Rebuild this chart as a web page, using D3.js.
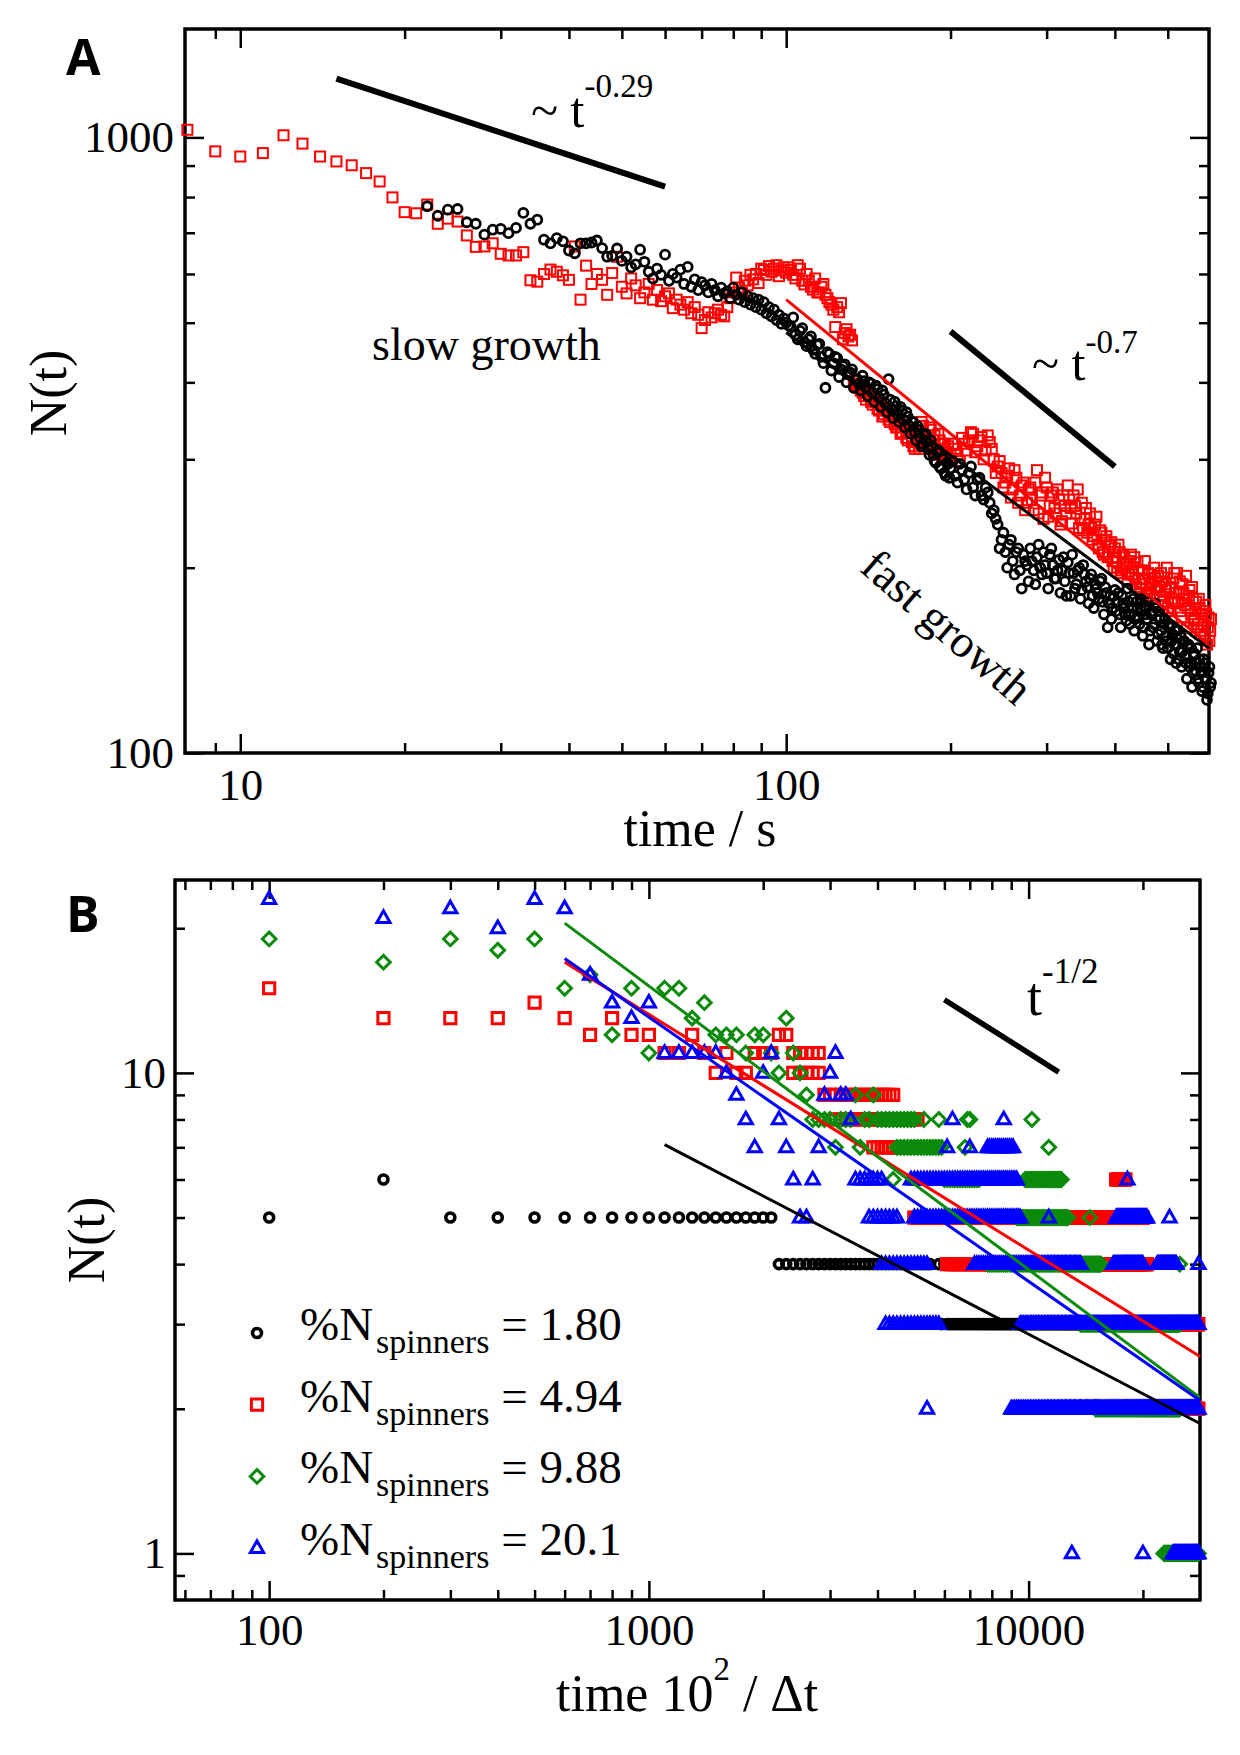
<!DOCTYPE html>
<html>
<head>
<meta charset="utf-8">
<script src="https://cdn.jsdelivr.net/npm/d3@7"></script>
<style>
  body { margin: 0; background: #fff; }
  svg { display: block; }
</style>
</head>
<body>
<div id="chart"></div>
<script>
// ---------------- panel A : N(t) vs time / s ----------------
// red squares, one reading per second from t = 8 s to 99 s
var redA_early = [1029, 949, 931, 943, 1008, 977, 931, 914, 901, 875,
    848, 799, 756, 753, 778, 724, 738, 730, 693, 664,
    665, 673, 647, 643, 643, 651, 586, 583, 600, 610,
    605, 597, 587, 665, 545, 619, 578, 600, 587, 555,
    602, 640, 572, 558, 590, 575, 548, 560, 578, 545,
    565, 542, 552, 558, 528, 545, 535, 525, 540, 518,
    530, 515, 490, 505, 520, 510, 518, 525, 515, 512,
    530, 548, 560, 592, 570, 559, 585, 575, 598, 588,
    600, 580, 612, 609, 598, 618, 605, 612, 620, 595,
    608, 615];
// t = 100, 102 .. 198 s
var redA_mid = [603, 609, 590, 612, 577, 585, 566, 560, 572, 555,
    540, 525, 530, 538, 481, 475, 468, 398, 392, 385,
    375, 380, 368, 372, 360, 352, 365, 348, 355, 342,
    338, 330, 345, 325, 335, 320, 312, 330, 318, 340,
    328, 315, 335, 322, 310, 330, 318, 312, 305, 315];
// t = 101, 103 .. 199 s
var redA_mid2 = [615, 598, 620, 585, 600, 572, 590, 560, 578, 548,
    535, 492, 520, 470, 488, 478, 402, 395, 388, 380,
    390, 372, 378, 362, 370, 355, 360, 345, 352, 338,
    348, 332, 340, 322, 335, 315, 328, 312, 345, 322,
    318, 338, 312, 328, 305, 322, 300, 318, 308, 298];
// t = 200, 204 .. 600 s
var redA_late = [305, 312, 298, 318, 322, 330, 315, 326, 310, 320,
    300, 292, 285, 275, 290, 268, 280, 262, 275, 255,
    270, 248, 288, 262, 240, 270, 252, 265, 245, 258,
    238, 252, 272, 250, 262, 245, 232, 255, 240, 228,
    245, 222, 235, 218, 230, 212, 222, 208, 218, 205,
    215, 200, 212, 198, 208, 203, 195, 210, 200, 192,
    204, 188, 198, 192, 185, 196, 182, 190, 200, 186,
    194, 180, 190, 176, 188, 172, 185, 178, 192, 175,
    196, 182, 170, 188, 178, 194, 172, 184, 168, 178,
    165, 176, 162, 172, 158, 170, 155, 168, 160, 152,
    165];
// t = 202, 206 .. 598 s
var redA_late2 = [318, 305, 325, 310, 332, 308, 322, 300, 328, 312,
    285, 298, 270, 282, 260, 288, 255, 272, 248, 268,
    258, 275, 245, 265, 280, 242, 262, 250, 268, 235,
    262, 245, 258, 236, 252, 268, 240, 230, 250, 235,
    232, 225, 242, 215, 228, 210, 225, 212, 220, 200,
    208, 218, 196, 210, 200, 190, 205, 195, 208, 186,
    198, 182, 192, 205, 180, 195, 188, 178, 192, 184,
    186, 196, 174, 184, 200, 170, 186, 176, 196, 182,
    176, 190, 166, 182, 174, 160, 180, 170, 186, 164,
    172, 160, 178, 156, 168, 162, 174, 150, 166, 158];

// black circles, t = 22 .. 99 s
var blackA_early = [773, 746, 763, 765, 728, 724, 695, 708, 710, 699,
    713, 754, 724, 735, 682, 673, 686, 678, 655, 648,
    673, 673, 675, 680, 661, 640, 642, 660, 630, 640,
    615, 622, 657, 628, 605, 590, 612, 598, 645, 585,
    600, 592, 610, 578, 616, 572, 588, 565, 582, 575,
    560, 578, 565, 552, 570, 558, 562, 548, 570, 555,
    545, 560, 540, 552, 535, 548, 530, 545, 525, 540,
    518, 530, 512, 525, 505, 515, 498, 508];
var blackA_mid = [500, 492, 478, 485, 465, 470, 452, 460, 440, 392,
    445, 430, 438, 420, 428, 412, 420, 405, 398, 410,
    392, 400, 385, 395, 378, 388, 370, 405, 362, 372,
    355, 365, 348, 358, 340, 345, 332, 340, 325, 318,
    330, 312, 322, 305, 296, 310, 290, 300, 282, 295];
var blackA_mid2 = [495, 510, 470, 490, 458, 475, 445, 462, 430, 448,
    418, 440, 408, 425, 400, 415, 392, 405, 388, 402,
    380, 398, 372, 390, 365, 382, 358, 375, 350, 366,
    345, 360, 338, 352, 330, 345, 322, 335, 315, 328,
    320, 305, 315, 298, 308, 292, 302, 285, 296, 280];
var blackA_late = [290, 282, 295, 278, 285, 270, 278, 262, 270, 255,
    248, 235, 222, 212, 218, 205, 212, 198, 210, 202,
    215, 198, 208, 200, 212, 196, 210, 202, 192, 206,
    198, 190, 204, 180, 196, 188, 200, 184, 195, 186,
    192, 180, 188, 182, 190, 176, 186, 160, 180, 172,
    184, 175, 168, 180, 172, 164, 176, 168, 178, 165,
    172, 162, 170, 160, 168, 176, 158, 170, 162, 172,
    156, 165, 150, 162, 155, 148, 160, 152, 145, 158,
    150, 142, 155, 146, 152, 140, 150, 138, 148, 135,
    145, 140, 132, 142, 135, 128, 140, 132, 125, 138,
    130];
var blackA_late2 = [298, 275, 288, 268, 292, 262, 280, 258, 265, 245,
    240, 215, 228, 200, 222, 195, 215, 185, 205, 190,
    205, 188, 218, 195, 202, 185, 215, 192, 198, 182,
    208, 180, 196, 210, 185, 198, 178, 202, 190, 175,
    195, 172, 185, 178, 192, 168, 182, 175, 165, 180,
    170, 182, 160, 175, 168, 185, 162, 172, 158, 176,
    166, 178, 155, 172, 165, 150, 168, 160, 175, 152,
    170, 158, 148, 165, 152, 162, 142, 156, 150, 140,
    158, 146, 138, 152, 144, 132, 150, 140, 128, 145,
    136, 148, 130, 138, 126, 142, 132, 122, 135, 128];

// straight lines of panel A, [t, N] end points
var slowGuideA = [[15, 1246], [60, 832]];
var fastGuideA = [[200, 484], [400, 292]];
var redFitA = [[100, 545], [595, 150]];
var blackFitA = [[100, 482], [595, 148]];

var xMajorA = [10, 100];
var xMinorA = [9, 20, 30, 40, 50, 60, 70, 80, 90, 200, 300, 400, 500];
var yMajorA = [100, 1000];
var yMinorA = [200, 300, 400, 500, 600, 700, 800, 900];

// ---------------- panel B : N(t) vs time 10^2 / dt ----------------
// runs of points [from, to, N], one point every 100 along x
var blackRunsB = [[100, 100, 5], [200, 200, 6], [300, 2100, 5], [2200, 5500, 4],
    [5800, 5800, 4], [5900, 5900, 3], [6000, 6000, 4], [6100, 28000, 3]];
var redRunsB = [[100, 100, 15], [200, 400, 13], [500, 500, 14], [600, 600, 13],
    [700, 700, 12], [800, 800, 13], [900, 1000, 12], [1100, 1200, 11],
    [1300, 1300, 12], [1400, 1400, 11], [1500, 1500, 10], [1600, 1600, 11],
    [1700, 1800, 10], [1900, 2100, 11], [2200, 2300, 12], [2400, 2800, 11],
    [2400, 2800, 10], [2900, 4400, 9], [3100, 5100, 8], [3900, 5100, 7],
    [5000, 20000, 5], [6100, 20500, 4], [17000, 18000, 6], [20000, 28000, 3],
    [25000, 28000, 2]];
var greenRunsB = [[100, 100, 19], [200, 200, 17], [300, 300, 19], [400, 400, 18],
    [500, 500, 19], [600, 600, 15], [700, 700, 16], [800, 800, 12],
    [900, 900, 15], [1000, 1000, 11], [1100, 1200, 15], [1300, 1300, 13],
    [1400, 1400, 14], [1500, 1700, 12], [1800, 1800, 11], [1900, 2000, 12],
    [2100, 2100, 11], [2200, 2200, 10], [2300, 2300, 13], [2400, 2400, 11],
    [2500, 2500, 10], [2600, 2600, 9], [2700, 3000, 8], [3100, 3100, 7],
    [3200, 3400, 8], [3500, 3500, 9], [3600, 3600, 7], [3700, 3800, 8],
    [3900, 3900, 9], [4000, 5000, 8], [4400, 4400, 6], [4500, 5900, 7],
    [5300, 5300, 8], [5800, 5800, 8], [6000, 7400, 6], [6800, 6800, 7],
    [6900, 7000, 8], [7800, 15500, 4], [9300, 12700, 5], [9800, 12200, 6],
    [10200, 10200, 8], [11300, 11300, 7], [13700, 25000, 3], [14500, 14500, 5],
    [15000, 25000, 2], [22700, 28000, 1], [25000, 25000, 4]];
var blueRunsB = [[100, 100, 23], [200, 200, 21], [300, 300, 22], [400, 400, 20],
    [500, 500, 23], [600, 600, 22], [700, 700, 16], [800, 800, 14],
    [900, 900, 13], [1000, 1000, 14], [1100, 1500, 11], [1600, 1600, 10],
    [1700, 1700, 9], [1800, 1800, 8], [1900, 1900, 7], [2000, 2000, 10],
    [2100, 2100, 11], [2200, 2200, 8], [2300, 2300, 7], [2400, 2400, 6],
    [2500, 2600, 5], [2700, 2700, 6], [2800, 2800, 7], [2900, 2900, 9],
    [3000, 3000, 10], [3100, 3100, 11], [3200, 3300, 9], [3400, 3400, 8],
    [3500, 4100, 6], [3800, 4500, 5], [4100, 5400, 4], [4200, 5800, 3],
    [5400, 5400, 2], [4900, 9300, 6], [5000, 9500, 5], [6100, 6100, 7],
    [6300, 6300, 8], [7000, 7000, 7], [7200, 13700, 4], [7800, 9100, 7],
    [8600, 8600, 8], [9000, 28000, 2], [9500, 28000, 3], [11300, 11300, 5],
    [13000, 13000, 1], [16700, 20000, 4], [17000, 20500, 5], [18200, 18200, 6],
    [20000, 20000, 1], [21800, 24500, 4], [23500, 23500, 5], [24000, 28000, 1],
    [28000, 28000, 4]];

// fitted lines and the t^-1/2 guide, [x, N] end points
var blackFitB = [[1100, 7.09], [28270, 1.864]];
var redFitB = [[600, 17], [28270, 2.57]];
var greenFitB = [[600, 20.5], [28270, 2.11]];
var blueFitB = [[600, 17.3], [28270, 2.08]];
var guideB = [[6000, 14.2], [12000, 10.04]];

var legendValues = ['1.80', '4.94', '9.88', '20.1'];

var xMajorB = [100, 1000, 10000];
var xMinorB = [60, 70, 80, 90, 200, 300, 400, 500, 600, 700, 800, 900,
    2000, 3000, 4000, 5000, 6000, 7000, 8000, 9000, 20000];
var yMajorB = [1, 10];
var yMinorB = [0.9, 2, 3, 4, 5, 6, 7, 8, 9, 20];

(function () {
    const serif = '"Liberation Serif", "Times New Roman", serif';
    const majorLen = 19;
    const minorLen = 10;

    var svg = d3.select('#chart').append('svg')
        .attr('width', 1240)
        .attr('height', 1755);

    svg.append('rect')
        .attr('width', 1240)
        .attr('height', 1755)
        .attr('fill', 'white');

    // scales
    var xA = d3.scaleLog().domain([7.92, 595]).range([185, 1209]);
    var yA = d3.scaleLog().domain([100, 1500]).range([753, 29]);
    var xB = d3.scaleLog().domain([56.5, 28270]).range([175, 1200]);
    var yB = d3.scaleLog().domain([0.8, 25.2]).range([1600, 880]);

    function drawFrame(x, y) {
        var x0 = x.range()[0], x1 = x.range()[1];
        var y0 = y.range()[0], y1 = y.range()[1];
        var g = svg.append('g');

        g.append('rect')
            .attr('x', x0)
            .attr('y', y1)
            .attr('width', x1 - x0)
            .attr('height', y0 - y1)
            .attr('fill', 'none')
            .attr('stroke', 'black')
            .attr('stroke-width', 3.5);

        return g;
    }

    function drawTicks(g, x, y, xMajor, xMinor, yMajor, yMinor, padX, padY) {
        var x0 = x.range()[0], x1 = x.range()[1];
        var y0 = y.range()[0], y1 = y.range()[1];

        var axes = [
            [d3.axisBottom(x), 'translate(0,' + y0 + ')', xMajor, xMinor, true, padX],
            [d3.axisTop(x), 'translate(0,' + y1 + ')', xMajor, xMinor, false, 0],
            [d3.axisLeft(y), 'translate(' + x0 + ',0)', yMajor, yMinor, true, padY],
            [d3.axisRight(y), 'translate(' + x1 + ',0)', yMajor, yMinor, false, 0]
        ];

        axes.forEach(function (a) {
            var axis = a[0];
            // minor ticks
            g.append('g')
                .attr('transform', a[1])
                .call(axis.tickValues(a[3]).tickSize(-minorLen).tickSizeOuter(0).tickFormat(''))
                .call(function (s) { s.select('.domain').remove(); });
            // major ticks (with labels on bottom / left)
            var ag = g.append('g')
                .attr('transform', a[1])
                .call(axis.tickValues(a[2]).tickSize(-majorLen).tickSizeOuter(0)
                    .tickPadding(a[5])
                    .tickFormat(a[4] ? d3.format('d') : ''))
                .call(function (s) { s.select('.domain').remove(); });
            ag.attr('font-family', serif).attr('font-size', 45);
        });

        g.selectAll('.tick line')
            .attr('stroke', 'black')
            .attr('stroke-width', 2.5);
        g.selectAll('.tick text')
            .attr('fill', 'black');
    }

    function lineOf(x, y) {
        return d3.line()
            .x(function (d) { return x(d[0]); })
            .y(function (d) { return y(d[1]); });
    }

    function seriesA(early, tStart, mid, mid2, late, late2) {
        var pts = [];
        early.forEach(function (n, i) { pts.push({ t: tStart + i, n: n }); });
        mid.forEach(function (n, i) { pts.push({ t: 100 + 2 * i, n: n }); });
        mid2.forEach(function (n, i) { pts.push({ t: 101 + 2 * i, n: n }); });
        late.forEach(function (n, i) { pts.push({ t: 200 + 4 * i, n: n }); });
        late2.forEach(function (n, i) { pts.push({ t: 202 + 4 * i, n: n }); });
        return pts;
    }

    function expandRuns(runs) {
        var pts = [];
        runs.forEach(function (r) {
            for (var v = r[0]; v <= r[1]; v += 100) {
                pts.push([v, r[2]]);
            }
        });
        return pts;
    }

    function symbolPath(shape) {
        if (shape === 'square') return 'M-5.6,-5.6H5.6V5.6H-5.6Z';
        if (shape === 'diamond') return 'M0,-6.8L6.8,0L0,6.8L-6.8,0Z';
        if (shape === 'triangle') return 'M0,-7.2L6.6,4.4H-6.6Z';
        return 'M4.5,0A4.5,4.5 0 1,1 -4.5,0A4.5,4.5 0 1,1 4.5,0Z';
    }

    // ================= panel A =================
    var gA = drawFrame(xA, yA);
    drawTicks(gA, xA, yA, xMajorA, xMinorA, yMajorA, yMinorA, 15, 11);

    var redPts = seriesA(redA_early, 8, redA_mid, redA_mid2, redA_late, redA_late2);
    var blackPts = seriesA(blackA_early, 22, blackA_mid, blackA_mid2, blackA_late, blackA_late2);

    gA.append('g').selectAll('rect').data(redPts)
        .enter().append('rect')
        .attr('x', function (d) { return xA(d.t) - 5; })
        .attr('y', function (d) { return yA(d.n) - 5; })
        .attr('width', 10)
        .attr('height', 10)
        .attr('fill', 'none')
        .attr('stroke', '#ff0000')
        .attr('stroke-width', 2);

    gA.append('g').selectAll('circle').data(blackPts)
        .enter().append('circle')
        .attr('cx', function (d) { return xA(d.t); })
        .attr('cy', function (d) { return yA(d.n); })
        .attr('r', 4.5)
        .attr('fill', 'none')
        .attr('stroke', 'black')
        .attr('stroke-width', 2.8);

    var lineA = lineOf(xA, yA);
    gA.append('path').attr('d', lineA(blackFitA))
        .attr('stroke', 'black').attr('stroke-width', 3).attr('fill', 'none');
    gA.append('path').attr('d', lineA(redFitA))
        .attr('stroke', '#ff0000').attr('stroke-width', 3).attr('fill', 'none');
    gA.append('path').attr('d', lineA(slowGuideA))
        .attr('stroke', 'black').attr('stroke-width', 6).attr('fill', 'none');
    gA.append('path').attr('d', lineA(fastGuideA))
        .attr('stroke', 'black').attr('stroke-width', 6).attr('fill', 'none');

    // annotations
    var tA1 = svg.append('text').attr('x', 531).attr('y', 127)
        .attr('font-family', serif).attr('font-size', 50);
    tA1.append('tspan').text('~ t');
    tA1.append('tspan').attr('font-size', 33).attr('dy', -30).text('-0.29');

    var tA2 = svg.append('text').attr('x', 1032).attr('y', 380)
        .attr('font-family', serif).attr('font-size', 50);
    tA2.append('tspan').text('~ t');
    tA2.append('tspan').attr('font-size', 33).attr('dy', -27).text('-0.7');

    svg.append('text').attr('x', 372).attr('y', 360)
        .attr('font-family', serif).attr('font-size', 46)
        .text('slow growth');

    svg.append('text')
        .attr('transform', 'translate(946,628) rotate(41)')
        .attr('text-anchor', 'middle')
        .attr('dy', '0.3em')
        .attr('font-family', serif).attr('font-size', 46)
        .text('fast growth');

    svg.append('text')
        .attr('transform', 'translate(50,393) rotate(-90)')
        .attr('text-anchor', 'middle')
        .attr('dy', '0.3em')
        .attr('font-family', serif).attr('font-size', 52)
        .text('N(t)');

    svg.append('text').attr('x', 700).attr('y', 846)
        .attr('text-anchor', 'middle')
        .attr('font-family', serif).attr('font-size', 52)
        .text('time / s');

    svg.append('text').attr('x', 66).attr('y', 75)
        .attr('font-family', '"Open Sans", "Liberation Sans", sans-serif')
        .attr('font-weight', 'bold').attr('font-size', 50)
        .text('A');

    // ================= panel B =================
    var gB = drawFrame(xB, yB);
    drawTicks(gB, xB, yB, xMajorB, xMinorB, yMajorB, yMinorB, 13, 9);

    var setsB = [
        { runs: blackRunsB, color: 'black', shape: 'circle', fit: blackFitB, sw: 3.6 },
        { runs: redRunsB, color: '#ff0000', shape: 'square', fit: redFitB, sw: 3 },
        { runs: greenRunsB, color: '#0b8a0b', shape: 'diamond', fit: greenFitB, sw: 3 },
        { runs: blueRunsB, color: '#0000ff', shape: 'triangle', fit: blueFitB, sw: 3 }
    ];

    setsB.forEach(function (s) {
        gB.append('g').selectAll('path').data(expandRuns(s.runs))
            .enter().append('path')
            .attr('d', symbolPath(s.shape))
            .attr('transform', function (d) {
                return 'translate(' + xB(d[0]) + ',' + yB(d[1]) + ')';
            })
            .attr('fill', 'none')
            .attr('stroke', s.color)
            .attr('stroke-width', s.sw);
    });

    var lineB = lineOf(xB, yB);
    setsB.forEach(function (s) {
        gB.append('path').attr('d', lineB(s.fit))
            .attr('stroke', s.color).attr('stroke-width', 3).attr('fill', 'none');
    });
    gB.append('path').attr('d', lineB(guideB))
        .attr('stroke', 'black').attr('stroke-width', 5.5).attr('fill', 'none');

    var tB = svg.append('text').attr('x', 1027).attr('y', 1015)
        .attr('font-family', serif).attr('font-size', 54);
    tB.append('tspan').text('t');
    tB.append('tspan').attr('font-size', 35).attr('dy', -32).text('-1/2');

    // legend
    var legend = svg.append('g');
    setsB.forEach(function (s, i) {
        var cy = 1333 + 71.7 * i;
        legend.append('path')
            .attr('d', symbolPath(s.shape))
            .attr('transform', 'translate(257,' + cy + ')')
            .attr('fill', 'none')
            .attr('stroke', s.color)
            .attr('stroke-width', s.sw);
        var t = legend.append('text')
            .attr('x', 300)
            .attr('y', cy + 7)
            .attr('font-family', serif)
            .attr('font-size', 47);
        t.append('tspan').text('%N');
        t.append('tspan').attr('font-size', 34).attr('dx', 3).attr('dy', 13).text('spinners');
        t.append('tspan').attr('dy', -13).text(' = ' + legendValues[i]);
    });

    svg.append('text')
        .attr('transform', 'translate(88,1240) rotate(-90)')
        .attr('text-anchor', 'middle')
        .attr('dy', '0.3em')
        .attr('font-family', serif).attr('font-size', 52)
        .text('N(t)');

    var tx = svg.append('text').attr('x', 556).attr('y', 1711)
        .attr('font-family', serif).attr('font-size', 52);
    tx.append('tspan').text('time 10');
    tx.append('tspan').attr('font-size', 33).attr('dy', -31).text('2');
    tx.append('tspan').attr('dy', 31).text(' / \u0394t');

    svg.append('text').attr('x', 66).attr('y', 932)
        .attr('font-family', '"Open Sans", "Liberation Sans", sans-serif')
        .attr('font-weight', 'bold').attr('font-size', 50)
        .text('B');
})();
</script>
</body>
</html>
